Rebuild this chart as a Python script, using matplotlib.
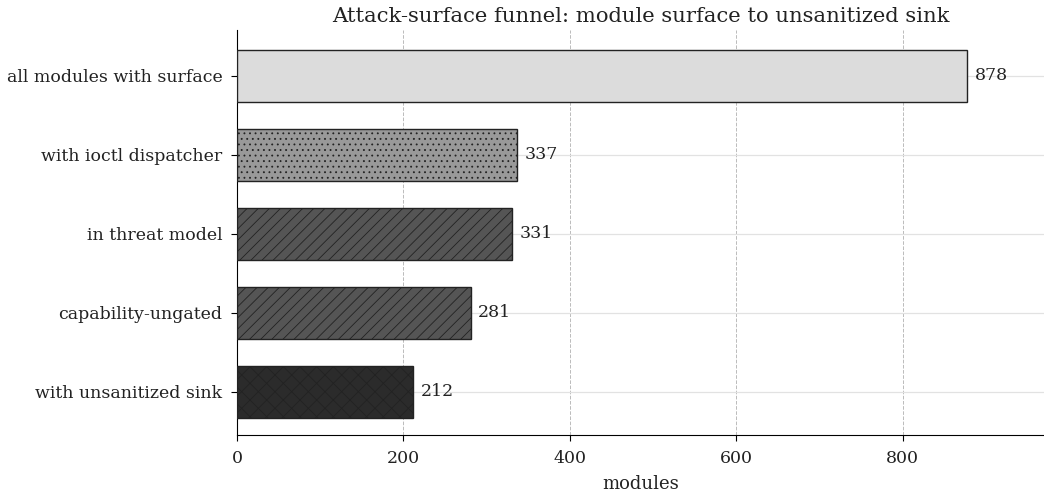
import matplotlib
matplotlib.use("Agg")
import matplotlib.pyplot as plt

categories = ["all modules with surface", "with ioctl dispatcher", "in threat model",
              "capability-ungated", "with unsanitized sink"]
values = [878, 337, 331, 281, 212]
colors = ["#dcdcdc", "#999999", "#555555", "#555555", "#2b2b2b"]
hatches = ["", "...", "///", "///", "xx"]
xticks = [0, 200, 400, 600, 800]

plt.rcParams['font.family'] = ['DejaVu Serif']
plt.rcParams['hatch.color'] = '#222222'
plt.rcParams['hatch.linewidth'] = 0.6
plt.rcParams['text.color'] = '#222222'
plt.rcParams['xtick.labelcolor'] = '#222222'
plt.rcParams['ytick.labelcolor'] = '#222222'
plt.rcParams['axes.labelcolor'] = '#222222'

fig = plt.figure(figsize=(10.44, 4.95), dpi=100)
ax = fig.add_axes([0.227, 0.121, 0.773, 0.818])

ypos = list(range(len(categories)))
bars = ax.barh(ypos, values, height=0.66, color=colors, edgecolor='#222222', linewidth=1.0, zorder=3)
for b, h in zip(bars, hatches):
    b.set_hatch(h)
for y, v in zip(ypos, values):
    ax.text(v + 9, y, str(v), va='center', ha='left', fontsize=12.5, zorder=4)

ax.set_yticks(ypos)
ax.set_yticklabels(categories, fontsize=12.5)
ax.set_ylim(len(categories) - 1 + 0.55, -0.58)
ax.set_xlim(0, 970)
ax.set_xticks(xticks)
ax.tick_params(axis='x', labelsize=12.5, pad=6, length=4.5)
ax.tick_params(axis='y', pad=6, length=4.5)
ax.set_xlabel("modules", fontsize=13, labelpad=6)
ax.spines['top'].set_visible(False)
ax.spines['right'].set_visible(False)
ax.xaxis.grid(True, linestyle='--', color='#bbbbbb', linewidth=0.7, zorder=0)
ax.yaxis.grid(True, linestyle='-', color='#e2e2e2', linewidth=0.9, zorder=0)
ax.set_axisbelow(True)
ax.set_title("Attack-surface funnel: module surface to unsanitized sink", fontsize=15.2, pad=6)

fig.savefig("out.png", dpi=100)
